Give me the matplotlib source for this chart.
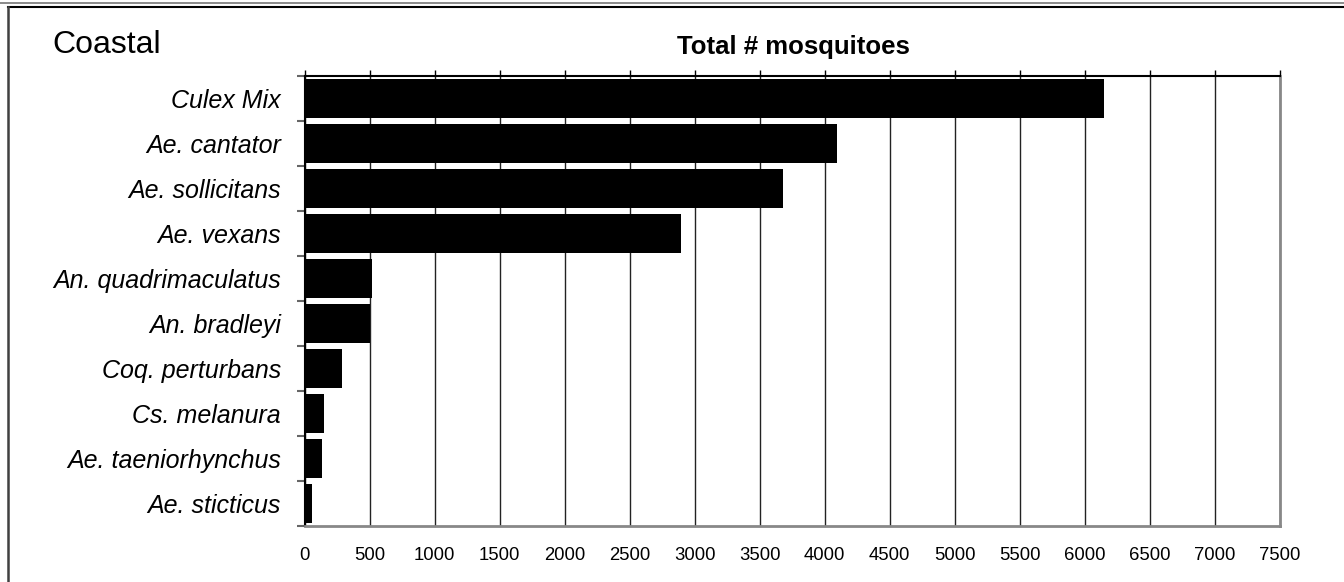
import matplotlib
matplotlib.use("Agg")
import matplotlib.pyplot as plt
from matplotlib.lines import Line2D
from matplotlib.ticker import FixedLocator

plt.rcParams['font.family'] = ['Liberation Sans', 'DejaVu Sans']

# species, top to bottom
species = ['Culex Mix', 'Ae. cantator', 'Ae. sollicitans', 'Ae. vexans',
           'An. quadrimaculatus', 'An. bradleyi', 'Coq. perturbans',
           'Cs. melanura', 'Ae. taeniorhynchus', 'Ae. sticticus']
totals = [6150, 4095, 3680, 2895, 518, 505, 288, 149, 136, 57]
x_ticks = list(range(0, 7501, 500))

W, H = 1344, 582
fig = plt.figure(figsize=(W / 100, H / 100), dpi=100)
fig.patch.set_facecolor('white')

# axes box in pixels: left 304.5, right 1279.5, top 76, bottom 525.7
ax = fig.add_axes([304.5 / W, 1 - 525.7 / H, 975 / W, 449.7 / H])

ypos = list(range(len(species)))
ax.barh(ypos, totals, height=0.87, color='black', zorder=3)

ax.set_xlim(0, 7500)
ax.set_ylim(len(species) - 0.5, -0.5)

ax.xaxis.set_major_locator(FixedLocator(x_ticks))
ax.set_xticklabels([str(v) for v in x_ticks], fontsize=13.3)
ax.tick_params(axis='x', bottom=False, top=True, labelbottom=True,
               labeltop=False, direction='out', length=4.5, width=1,
               color='black', pad=11)
ax.grid(axis='x', color='#222222', linewidth=1, zorder=1)

ax.set_yticks(ypos)
ax.set_yticklabels(species, fontsize=18, style='italic')
ax.set_yticks([y - 0.5 for y in range(len(species) + 1)], minor=True)
ax.tick_params(axis='y', which='major', length=0, pad=17)
ax.tick_params(axis='y', which='minor', length=5.5, width=1.5,
               color='#666666', direction='out')

ax.spines['top'].set_color('black')
ax.spines['top'].set_linewidth(1.5)
ax.spines['left'].set_color('black')
ax.spines['left'].set_linewidth(1.5)
ax.spines['right'].set_color('#888888')
ax.spines['right'].set_linewidth(2)
ax.spines['bottom'].set_color('#888888')
ax.spines['bottom'].set_linewidth(2)

fig.text(52 / W, 1 - 45 / H, 'Coastal', fontsize=23, ha='left', va='center')
fig.text(793 / W, 1 - 47 / H, 'Total # mosquitoes', fontsize=18.5,
         fontweight='bold', ha='center', va='center')

# outer frame: double top rule and left rule
fig.add_artist(Line2D([0, 1], [1 - 3 / H, 1 - 3 / H], color='#777777',
                      linewidth=1.2, transform=fig.transFigure))
fig.add_artist(Line2D([7.5 / W, 1], [1 - 6.5 / H, 1 - 6.5 / H], color='black',
                      linewidth=1.5, transform=fig.transFigure))
fig.add_artist(Line2D([7.8 / W, 7.8 / W], [0, 1 - 6.5 / H], color='#404040',
                      linewidth=1.8, transform=fig.transFigure))

fig.savefig('out.png', dpi=100, facecolor='white')
